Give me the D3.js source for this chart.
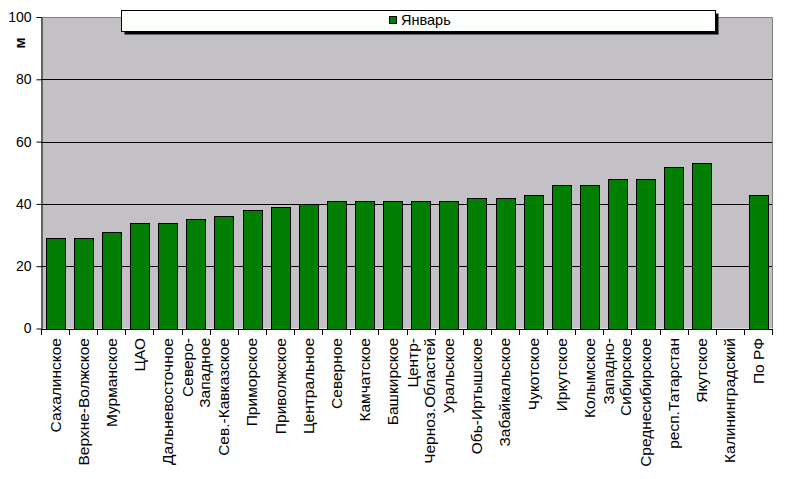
<!DOCTYPE html>
<html>
<head>
<meta charset="utf-8">
<script src="https://cdn.jsdelivr.net/npm/d3@7"></script>
<style>
  html, body { margin: 0; padding: 0; background: #ffffff; }
  svg { display: block; font-family: "Liberation Sans", Arial, sans-serif; }
</style>
</head>
<body>
<svg id="chart" width="800" height="479"></svg>
<script>
// ---- Data ----
const categories = [
  "Сахалинское", "Верхне-Волжское", "Мурманское", "ЦАО", "Дальневосточное",
  "Северо-\nЗападное", "Сев.-Кавказское", "Приморское", "Приволжское", "Центральное",
  "Северное", "Камчатское", "Башкирское", "Центр-\nЧерноз.Областей", "Уральское",
  "Обь-Иртышское", "Забайкальское", "Чукотское", "Иркутское", "Колымское",
  "Западно-\nСибирское", "Среднесибирское", "респ.Татарстан", "Якутское", "Калининградский",
  "По РФ"
];
const values = [
  29, 29, 31, 34, 34,
  35, 36, 38, 39, 40,
  41, 41, 41, 41, 41,
  42, 42, 43, 46, 46,
  48, 48, 52, 53, null,
  43
];
const yTicks = [0, 20, 40, 60, 80, 100];
const seriesName = "Январь";
const yAxisTitle = "м";

// ---- Layout ----
const svg = d3.select("#chart");
const plot = { left: 41, right: 772, top: 17, bottom: 328.5 };

const x = d3.scaleBand()
  .domain(categories)
  .range([plot.left, plot.right])
  .paddingInner(0.335)
  .paddingOuter(0.1675);

const y = d3.scaleLinear()
  .domain([0, 100])
  .range([plot.bottom, plot.top]);

// plot background
svg.append("rect")
  .attr("x", plot.left).attr("y", plot.top)
  .attr("width", plot.right - plot.left)
  .attr("height", plot.bottom - plot.top)
  .attr("fill", "#c3c1c5")
  .attr("stroke", "none");

// gray top/right border
svg.append("path")
  .attr("d", `M${plot.left},${plot.top + 0.5}H${plot.right + 0.5}V${plot.bottom}`)
  .attr("fill", "none")
  .attr("stroke", "#808080")
  .attr("stroke-width", 1);

// gridlines
svg.append("g")
  .selectAll("line")
  .data(yTicks.filter(t => t > 0 && t < 100))
  .join("line")
  .attr("x1", plot.left).attr("x2", plot.right)
  .attr("y1", d => Math.round(y(d)) + 0.5)
  .attr("y2", d => Math.round(y(d)) + 0.5)
  .attr("stroke", "#000")
  .attr("stroke-width", 1);

// bars
svg.append("g")
  .selectAll("rect")
  .data(categories.map((c, i) => ({ c, v: values[i] })).filter(d => d.v != null))
  .join("rect")
  .attr("x", d => Math.round(x(d.c)) + 0.5)
  .attr("y", d => Math.round(y(d.v)) + 0.5)
  .attr("width", Math.round(x.bandwidth()))
  .attr("height", d => Math.round(y(0)) - Math.round(y(d.v)))
  .attr("fill", "#027e02")
  .attr("stroke", "#000")
  .attr("stroke-width", 1);

// y axis
const yAxis = d3.axisLeft(y)
  .tickValues(yTicks)
  .tickSize(5)
  .tickPadding(5)
  .tickSizeOuter(0);
const gy = svg.append("g")
  .attr("transform", `translate(${plot.left + 0.5},0)`)
  .call(yAxis);
gy.select(".domain").attr("stroke", "#000");
gy.selectAll(".tick line").attr("stroke", "#000");
gy.selectAll(".tick text")
  .attr("font-family", "'Liberation Sans', Arial, sans-serif")
  .attr("font-size", 14)
  .attr("fill", "#000");

// x axis line
svg.append("line")
  .attr("x1", plot.left).attr("x2", plot.right + 1)
  .attr("y1", Math.round(plot.bottom) + 0.5)
  .attr("y2", Math.round(plot.bottom) + 0.5)
  .attr("stroke", "#000");

// x ticks at band boundaries
const step = x.step();
const halfGap = (step - x.bandwidth()) / 2;
const boundaries = categories.map(c => x(c) - halfGap).concat([x(categories[categories.length - 1]) + x.bandwidth() + halfGap]);
svg.append("g")
  .selectAll("line")
  .data(boundaries)
  .join("line")
  .attr("x1", d => Math.round(d) + 0.5)
  .attr("x2", d => Math.round(d) + 0.5)
  .attr("y1", Math.round(plot.bottom))
  .attr("y2", Math.round(plot.bottom) + 6)
  .attr("stroke", "#000");

// category labels (rotated)
const lineH = 17;
const labels = svg.append("g")
  .selectAll("text")
  .data(categories)
  .join("text")
  .attr("transform", d => `translate(${x(d) + x.bandwidth() / 2},338) rotate(-90)`)
  .attr("text-anchor", "end")
  .attr("font-size", 15.5)
  .attr("fill", "#000");
labels.each(function(d) {
  const lines = d.split("\n");
  const sel = d3.select(this);
  const n = lines.length;
  lines.forEach((ln, i) => {
    sel.append("tspan")
      .attr("x", 0)
      .attr("y", (i - (n - 1) / 2) * lineH)
      .attr("dy", "0.36em")
      .text(ln);
  });
});

// y axis title
svg.append("text")
  .attr("transform", "translate(20,43) rotate(-90)")
  .attr("text-anchor", "middle")
  .attr("dy", "0.36em")
  .attr("font-size", 15)
  .attr("font-weight", "bold")
  .attr("fill", "#000")
  .text(yAxisTitle);

// legend
const lg = { x: 121.5, y: 10.5, w: 594, h: 21 };
svg.append("rect")
  .attr("x", lg.x + 3).attr("y", lg.y + 3)
  .attr("width", lg.w).attr("height", lg.h)
  .attr("fill", "#000");
svg.append("rect")
  .attr("x", lg.x).attr("y", lg.y)
  .attr("width", lg.w).attr("height", lg.h)
  .attr("fill", "#fdfffd")
  .attr("stroke", "#000");
svg.append("rect")
  .attr("x", 389.5).attr("y", 16.5)
  .attr("width", 7).attr("height", 7)
  .attr("fill", "#027e02")
  .attr("stroke", "#000");
svg.append("text")
  .attr("x", 401).attr("y", 25)
  .attr("font-size", 14.5)
  .attr("fill", "#000")
  .text(seriesName);
</script>
</body>
</html>
